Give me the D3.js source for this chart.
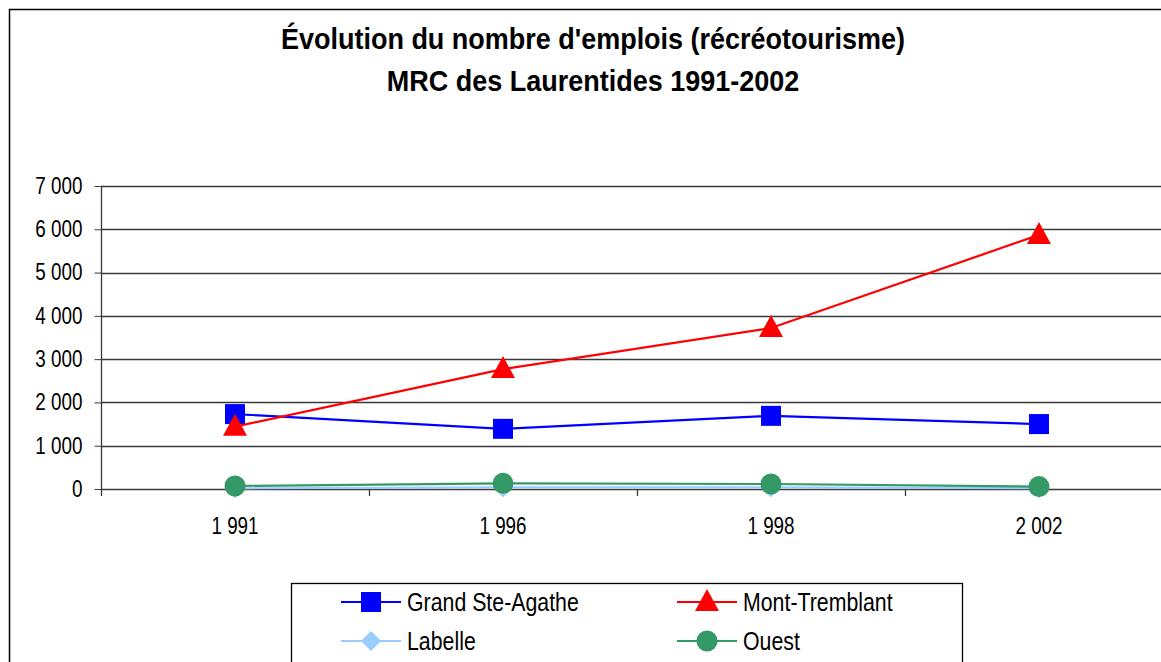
<!DOCTYPE html>
<html>
<head>
<meta charset="utf-8">
<script src="https://cdn.jsdelivr.net/npm/d3@7"></script>
<style>
  html, body { margin: 0; padding: 0; background: #fff; overflow: hidden; }
  svg { display: block; font-family: "Liberation Sans", Arial, sans-serif; }
</style>
</head>
<body>
<svg id="chart" width="1161" height="662"></svg>
<script>
// Data
const years = [1991, 1996, 1998, 2002];
const grandSteAgathe = [1730, 1390, 1690, 1500];
const montTremblant = [1440, 2770, 3720, 5870];
const labelle = [15, 40, 40, 20];
const ouest = [70, 130, 115, 55];
const yTicks = [0, 1000, 2000, 3000, 4000, 5000, 6000, 7000];

const series = [
  { name: "Grand Ste-Agathe", values: grandSteAgathe, colour: "#0000ff", marker: "square" },
  { name: "Mont-Tremblant", values: montTremblant, colour: "#ff0000", marker: "triangle" },
  { name: "Labelle", values: labelle, colour: "#99ccff", marker: "diamond" },
  { name: "Ouest", values: ouest, colour: "#339966", marker: "circle" }
];

// Arial Narrow look: squeeze Liberation Sans horizontally
const NARROW = 0.82;
const TITLE_NARROW = 0.9;

const svg = d3.select("#chart");

// outer chart border (cropped on right/bottom)
svg.append("rect")
  .attr("x", 9.5).attr("y", 9.5)
  .attr("width", 1200).attr("height", 700)
  .attr("fill", "none").attr("stroke", "#000").attr("stroke-width", 1.5);

// title
const title = svg.append("g")
  .attr("transform", "translate(593,0) scale(" + TITLE_NARROW + ",1)")
  .append("text")
  .attr("text-anchor", "middle")
  .attr("font-weight", "bold")
  .attr("font-size", 30)
  .attr("fill", "#000");
title.append("tspan").attr("x", 0).attr("y", 49).text("Évolution du nombre d'emplois (récréotourisme)");
title.append("tspan").attr("x", 0).attr("y", 91).text("MRC des Laurentides 1991-2002");

// scales
const x = d3.scaleBand().domain(years).range([101, 1173]).padding(0);
const y = d3.scaleLinear().domain([0, 7000]).range([489, 186]);
const fmt = v => d3.format(",")(v).replace(/,/g, " ");

// horizontal grid lines
svg.append("g")
  .selectAll("line")
  .data(yTicks)
  .enter().append("line")
  .attr("x1", 101).attr("x2", 1173)
  .attr("y1", d => Math.round(y(d)) + 0.5)
  .attr("y2", d => Math.round(y(d)) + 0.5)
  .attr("stroke", "#3a3a3a").attr("stroke-width", 1.3);

// y axis
const yAxis = svg.append("g")
  .attr("transform", "translate(101.5,0)")
  .call(d3.axisLeft(y).tickValues(yTicks).tickFormat(fmt).tickSize(7).tickPadding(12));
yAxis.select(".domain").attr("d", "M0," + y(7000) + "V496").attr("stroke", "#3a3a3a").attr("stroke-width", 1.3);
yAxis.selectAll(".tick line").attr("stroke", "#3a3a3a");
yAxis.selectAll("text")
  .attr("font-size", 23).attr("fill", "#000").attr("font-family", null)
  .attr("x", -19 / NARROW)
  .attr("transform", "scale(" + NARROW + ",1)");

// x axis labels
const xAxis = svg.append("g")
  .attr("transform", "translate(0,489.5)")
  .call(d3.axisBottom(x).tickFormat(fmt).tickSize(0).tickPadding(28));
xAxis.select(".domain").remove();
xAxis.selectAll("text")
  .attr("font-size", 23).attr("fill", "#000").attr("font-family", null)
  .attr("transform", "scale(" + NARROW + ",1)");

// x tick marks between categories
svg.append("g")
  .selectAll("line")
  .data(years.slice(1))
  .enter().append("line")
  .attr("x1", d => Math.round(x(d)) + 0.5)
  .attr("x2", d => Math.round(x(d)) + 0.5)
  .attr("y1", 489).attr("y2", 496)
  .attr("stroke", "#3a3a3a").attr("stroke-width", 1.3);

// marker shapes
function drawMarker(g, type, colour) {
  if (type === "square") {
    g.append("rect").attr("x", -10).attr("y", -10).attr("width", 20).attr("height", 20).attr("fill", colour);
  } else if (type === "triangle") {
    g.append("path").attr("d", "M0,-13L12,9L-12,9Z").attr("fill", colour);
  } else if (type === "diamond") {
    g.append("path").attr("d", "M0,-10L10,0L0,10L-10,0Z").attr("fill", colour);
  } else {
    g.append("circle").attr("r", 10.5).attr("fill", colour);
  }
}

const line = d3.line()
  .x((d, i) => x(years[i]) + x.bandwidth() / 2)
  .y(d => y(d));

// series in order, later ones on top
series.forEach(s => {
  const g = svg.append("g").attr("class", "series");
  g.append("path")
    .attr("d", line(s.values))
    .attr("fill", "none")
    .attr("stroke", s.colour)
    .attr("stroke-width", 2.2);
  s.values.forEach((v, i) => {
    const m = g.append("g")
      .attr("transform", "translate(" + (x(years[i]) + x.bandwidth() / 2) + "," + y(v) + ")");
    drawMarker(m, s.marker, s.colour);
  });
});

// legend
const legend = svg.append("g");
legend.append("rect")
  .attr("x", 291.5).attr("y", 583.5)
  .attr("width", 671).attr("height", 120)
  .attr("fill", "#fff").attr("stroke", "#000").attr("stroke-width", 1.3);

const legendPos = [[341, 602], [677, 602], [341, 641], [677, 641]];
series.forEach((s, i) => {
  const [lx, ly] = legendPos[i];
  const item = legend.append("g").attr("transform", "translate(" + lx + "," + ly + ")");
  item.append("line").attr("x1", 0).attr("x2", 60).attr("y1", 0).attr("y2", 0)
    .attr("stroke", s.colour).attr("stroke-width", 2.2);
  const m = item.append("g").attr("transform", "translate(30,0)");
  drawMarker(m, s.marker, s.colour);
  item.append("g")
    .attr("transform", "translate(66,9) scale(" + NARROW + ",1)")
    .append("text")
    .attr("font-size", 26).attr("fill", "#000")
    .text(s.name);
});
</script>
</body>
</html>
